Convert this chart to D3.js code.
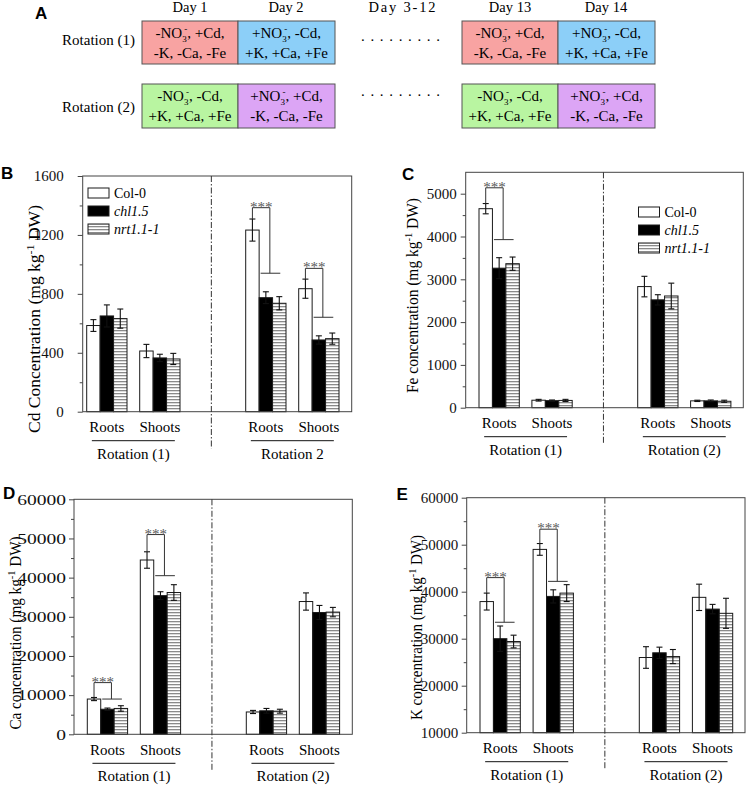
<!DOCTYPE html>
<html><head><meta charset="utf-8">
<script src="https://cdn.jsdelivr.net/npm/d3@7"></script>
<style>
body{margin:0;background:#fff;}
svg{display:block;font-family:"Liberation Serif","Times New Roman",serif;}
</style></head><body>
<svg id="chart" width="747" height="785"></svg>
<script>
// ---------------- Panel A data ----------------
const dayLabels = ["Day 1", "Day 2", "Day 3-12", "Day 13", "Day 14"];
const rotationRowLabels = ["Rotation (1)", "Rotation (2)"];
const rotation1Cells = [
  {no3: "-", rest: ", +Cd,", ions: "-K, -Ca, -Fe", color: "#F8A3A2"},
  {no3: "+", rest: ", -Cd,", ions: "+K, +Ca, +Fe", color: "#8CCFF8"},
  {no3: "-", rest: ", +Cd,", ions: "-K, -Ca, -Fe", color: "#F8A3A2"},
  {no3: "+", rest: ", -Cd,", ions: "+K, +Ca, +Fe", color: "#8CCFF8"}
];
const rotation2Cells = [
  {no3: "-", rest: ", -Cd,", ions: "+K, +Ca, +Fe", color: "#B9F5A1"},
  {no3: "+", rest: ", +Cd,", ions: "-K, -Ca, -Fe", color: "#DCA5F5"},
  {no3: "-", rest: ", -Cd,", ions: "+K, +Ca, +Fe", color: "#B9F5A1"},
  {no3: "+", rest: ", +Cd,", ions: "-K, -Ca, -Fe", color: "#DCA5F5"}
];

// ---------------- Bar chart data ----------------
const genotypes = ["Col-0", "chl1.5", "nrt1.1-1"];
const tissues = ["Roots", "Shoots"];
// group order: Rotation(1) Roots, Rotation(1) Shoots, Rotation(2) Roots, Rotation(2) Shoots
const groupSlots = [0, 1, 3, 4];

const cdMeans = [[585, 650, 632], [412, 365, 358], [1233, 774, 736], [835, 487, 496]];
const cdErrs  = [[40, 75, 65], [45, 25, 38], [75, 40, 45], [65, 28, 38]];
const cdSig   = [{group: 2, top: 1385, low: 940}, {group: 3, top: 973, low: 641}];
const cdTicks = [0, 400, 800, 1200, 1600];
const cdMinor = [200, 600, 1000, 1400];
const cdRotations = ["Rotation (1)", "Rotation 2"];

const feMeans = [[4650, 3260, 3365], [175, 165, 170], [2830, 2520, 2610], [160, 160, 150]];
const feErrs  = [[120, 245, 155], [20, 15, 25], [240, 120, 300], [15, 20, 25]];
const feSig   = [{group: 0, top: 5138, low: 3927}];
const feTicks = [0, 1000, 2000, 3000, 4000, 5000];
const feMinor = [500, 1500, 2500, 3500, 4500];
const feRotations = ["Rotation (1)", "Rotation (2)"];

const caMeans = [[9000, 6400, 6600], [44500, 35400, 36200], [5700, 6000, 5900], [33900, 31100, 31200]];
const caErrs  = [[400, 300, 700], [2100, 1000, 2000], [400, 600, 500], [2200, 1800, 1200]];
const caSig   = [{group: 0, top: 13200, low: 9000}, {group: 1, top: 51000, low: 40500}];
const caTicks = [0, 10000, 20000, 30000, 40000, 50000, 60000];
const caMinor = [5000, 15000, 25000, 35000, 45000, 55000];
const caRotations = ["Rotation (1)", "Rotation (2)"];

const kMeans = [[37900, 30000, 29400], [49000, 39000, 39700], [26000, 27000, 26200], [38800, 36300, 35400]];
const kErrs  = [[1800, 2700, 1350], [1250, 1400, 1800], [2300, 1200, 1500], [2800, 1000, 3200]];
const kSig   = [{group: 0, top: 43000, low: 33500}, {group: 1, top: 53300, low: 42200}];
const kTicks = [10000, 20000, 30000, 40000, 50000, 60000];
const kMinor = [15000, 25000, 35000, 45000, 55000];
const kRotations = ["Rotation (1)", "Rotation (2)"];

// ---------------- drawing ----------------
const svg = d3.select("#chart");
const defs = svg.append("defs");
const pat = defs.append("pattern").attr("id", "stripes").attr("patternUnits", "userSpaceOnUse")
  .attr("width", 6).attr("height", 3);
pat.append("rect").attr("width", 6).attr("height", 3).attr("fill", "#fff");
pat.append("rect").attr("width", 6).attr("height", 1.3).attr("fill", "#8a8a8a");
const fills = {"Col-0": "#fff", "chl1.5": "#000", "nrt1.1-1": "url(#stripes)"};

// ---- Panel A ----
const pA = svg.append("g");
pA.append("text").attr("x", 35).attr("y", 19).attr("font-family", "Liberation Sans, Arial, sans-serif")
  .attr("font-weight", "bold").attr("font-size", 17).text("A");
const cellX = [142, 238, 462, 558];
const cellW = [96, 97, 96, 97];
const rowTop = [21, 84];
const rowH = [43, 44];
const dayX = [190, 286, 402, 510, 606];
pA.selectAll("text.day").data(dayLabels).join("text").attr("class", "day")
  .attr("x", (d, i) => dayX[i]).attr("y", 12).attr("text-anchor", "middle").attr("font-size", 14.5)
  .each(function (d) { if (d === "Day 3-12") d3.select(this).attr("textLength", 67).attr("lengthAdjust", "spacing"); })
  .text(d => d);
pA.selectAll("text.rowlab").data(rotationRowLabels).join("text").attr("class", "rowlab")
  .attr("x", 135).attr("y", (d, i) => [45, 112][i]).attr("text-anchor", "end").attr("font-size", 15).text(d => d);
[rotation1Cells, rotation2Cells].forEach((cells, r) => {
  cells.forEach((c, i) => {
    pA.append("rect").attr("x", cellX[i]).attr("y", rowTop[r]).attr("width", cellW[i]).attr("height", rowH[r])
      .attr("fill", c.color).attr("stroke", "#555").attr("stroke-width", 1);
    const cx = cellX[i] + cellW[i] / 2;
    const t = pA.append("text").attr("x", cx).attr("y", rowTop[r] + 17).attr("text-anchor", "middle").attr("font-size", 15);
    t.append("tspan").text(c.no3 + "NO");
    t.append("tspan").attr("font-size", 9).attr("dy", 4).text("3");
    t.append("tspan").attr("font-size", 9).attr("dx", -2.5).attr("dy", -10).text("-");
    t.append("tspan").attr("dy", 6).text(c.rest);
    pA.append("text").attr("x", cx).attr("y", rowTop[r] + 37).attr("text-anchor", "middle").attr("font-size", 15).text(c.ions);
  });
  pA.append("text").attr("x", 361).attr("y", [41, 96][r]).attr("font-size", 15)
    .attr("textLength", 79).attr("lengthAdjust", "spacing").text(".........");
});

function drawPanel(cfg) {
  const g = svg.append("g");
  const y = d3.scaleLinear().domain(cfg.domain).range([cfg.bottom, cfg.top]);
  const xg = d3.scaleLinear().domain([0, 4]).range([cfg.x0, cfg.x0 + 4 * cfg.step]);
  const groupW = 40.3;
  const xb = d3.scaleBand().domain(genotypes).range([0, groupW]);
  const bw = xb.bandwidth();
  const flat = [];
  cfg.means.forEach((arr, gi) => arr.forEach((v, k) => flat.push({
    gi, slot: groupSlots[gi], gen: genotypes[k], v, e: cfg.errs[gi][k]
  })));
  const cxOf = d => xg(d.slot) + xb(d.gen) + bw / 2;

  // bars
  g.selectAll("rect.bar").data(flat).join("rect").attr("class", "bar")
    .attr("x", d => xg(d.slot) + xb(d.gen)).attr("width", bw)
    .attr("y", d => y(d.v)).attr("height", d => y(cfg.domain[0]) - y(d.v))
    .attr("fill", d => fills[d.gen]).attr("stroke", "#1a1a1a").attr("stroke-width", 1);
  // error bars
  const eb = g.selectAll("g.err").data(flat).join("g").attr("class", "err")
    .attr("stroke", "#111").attr("stroke-width", 1.1);
  eb.append("line").attr("x1", cxOf).attr("x2", cxOf).attr("y1", d => y(d.v - d.e)).attr("y2", d => y(d.v + d.e));
  eb.append("line").attr("x1", d => cxOf(d) - 3).attr("x2", d => cxOf(d) + 3).attr("y1", d => y(d.v + d.e)).attr("y2", d => y(d.v + d.e));
  eb.append("line").attr("x1", d => cxOf(d) - 3).attr("x2", d => cxOf(d) + 3).attr("y1", d => y(d.v - d.e)).attr("y2", d => y(d.v - d.e));

  // significance brackets
  cfg.sig.forEach(s => {
    const slot = groupSlots[s.group];
    const xL = xg(slot) + xb("Col-0") + bw / 2;
    const xR = xg(slot) + xb("chl1.5") + bw / 2 + 4;
    const errTop = cfg.means[s.group][0] + cfg.errs[s.group][0];
    g.append("path").attr("fill", "none").attr("stroke", "#333").attr("stroke-width", 1)
      .attr("d", `M${xL},${y(errTop)}V${y(s.top)}H${xR}V${y(s.low)}`);
    g.append("line").attr("stroke", "#333").attr("stroke-width", 1)
      .attr("x1", xg(slot) + xb("chl1.5") + 1.5).attr("x2", xg(slot) + xb("nrt1.1-1") + bw / 2 + 1)
      .attr("y1", y(s.low)).attr("y2", y(s.low));
    g.append("text").attr("x", (xL + xR) / 2).attr("y", y(s.top) + 4).attr("text-anchor", "middle")
      .attr("font-size", 15).attr("fill", "#5a5a5a").text("***");
  });

  // frame
  g.append("rect").attr("x", cfg.left).attr("y", cfg.top).attr("width", cfg.right - cfg.left)
    .attr("height", cfg.bottom - cfg.top).attr("fill", "none").attr("stroke", "#444").attr("stroke-width", 1);

  // divider
  const dx = xg(2) + groupW / 2 - 1.5;
  g.append("line").attr("x1", dx).attr("x2", dx).attr("y1", cfg.top).attr("y2", cfg.bottom + 37)
    .attr("stroke", "#333").attr("stroke-width", 1).attr("stroke-dasharray", "6,2,1.5,2");

  // axes
  const ax = g.append("g").attr("transform", `translate(${cfg.left},0)`)
    .call(d3.axisLeft(y).tickValues(cfg.ticks).tickSize(5).tickPadding(cfg.pad).tickFormat(d3.format("d")));
  ax.select(".domain").remove();
  ax.selectAll("line").attr("stroke", "#444");
  ax.selectAll("text").attr("font-family", "Liberation Serif, Times New Roman, serif").attr("font-size", 15).attr("fill", "#111");
  if (cfg.stretch) {
    ax.selectAll("text").attr("x", -(5 + cfg.pad) / cfg.stretch).attr("transform", `scale(${cfg.stretch},1)`);
  }
  const axm = g.append("g").attr("transform", `translate(${cfg.left},0)`)
    .call(d3.axisLeft(y).tickValues(cfg.minor).tickSize(3).tickFormat(""));
  axm.select(".domain").remove();
  axm.selectAll("line").attr("stroke", "#444");

  // x labels
  const tl = [];
  groupSlots.forEach((slot, gi) => tl.push({slot, name: tissues[gi % 2]}));
  g.selectAll("text.tissue").data(tl).join("text").attr("class", "tissue")
    .attr("x", d => xg(d.slot) + groupW / 2).attr("y", cfg.bottom + 20.5)
    .attr("text-anchor", "middle").attr("font-size", 15).text(d => d.name);
  [[0, 1], [3, 4]].forEach((pair, r) => {
    const a = xg(pair[0]) + groupW / 2, b = xg(pair[1]) + groupW / 2;
    g.append("line").attr("x1", a - 15).attr("x2", b + 15).attr("y1", cfg.bottom + 29).attr("y2", cfg.bottom + 29)
      .attr("stroke", "#111").attr("stroke-width", 1);
    g.append("text").attr("x", (a + b) / 2).attr("y", cfg.bottom + 47).attr("text-anchor", "middle")
      .attr("font-size", 15).text(cfg.rotations[r]);
  });

  // y label
  const yl = g.append("text").attr("transform", `translate(${cfg.ylx},${cfg.yly}) rotate(-90)`)
    .attr("text-anchor", "middle").attr("dy", "0.35em").attr("font-size", 16)
    .attr("textLength", cfg.ylLen).attr("lengthAdjust", "spacingAndGlyphs");
  yl.append("tspan").text(cfg.ylabel + " (mg kg");
  yl.append("tspan").attr("font-size", 11).attr("dy", -6).text("-1");
  yl.append("tspan").attr("dy", 6).text(" DW)");

  // panel letter
  g.append("text").attr("x", cfg.letterX).attr("y", cfg.letterY).attr("font-family", "Liberation Sans, Arial, sans-serif")
    .attr("font-weight", "bold").attr("font-size", 17).text(cfg.letter);

  // legend
  if (cfg.legend) {
    const lg = g.selectAll("g.leg").data(genotypes).join("g").attr("class", "leg")
      .attr("transform", (d, i) => `translate(${cfg.legend.x},${cfg.legend.y + i * 18})`);
    lg.append("rect").attr("x", 0).attr("y", -5).attr("width", 21).attr("height", 10)
      .attr("fill", d => fills[d]).attr("stroke", "#1a1a1a").attr("stroke-width", 1);
    lg.append("text").attr("x", 26).attr("y", 5).attr("font-size", 14)
      .attr("font-style", d => d === "Col-0" ? "normal" : "italic").text(d => d);
  }
}

drawPanel({letter: "B", letterX: 1, letterY: 179, left: 82.7, right: 351.7, top: 176, bottom: 411.7,
  domain: [0, 1600], x0: 86.7, step: 53, means: cdMeans, errs: cdErrs, sig: cdSig,
  ticks: cdTicks, minor: cdMinor, pad: 14, rotations: cdRotations,
  ylabel: "Cd Concentration", ylx: 34, yly: 319, ylLen: 228, legend: {x: 88, y: 193}});
drawPanel({letter: "C", letterX: 402, letterY: 180, left: 465.7, right: 743.3, top: 172.3, bottom: 407.7,
  domain: [0, 5500], x0: 479, step: 52.9, means: feMeans, errs: feErrs, sig: feSig,
  ticks: feTicks, minor: feMinor, pad: 4, rotations: feRotations,
  ylabel: "Fe concentration", ylx: 412.5, yly: 295.5, ylLen: 195, legend: {x: 638.5, y: 212}});
drawPanel({letter: "D", letterX: 3, letterY: 498.5, left: 74, right: 352.3, top: 499.3, bottom: 734.3,
  domain: [0, 60000], x0: 87.3, step: 53, means: caMeans, errs: caErrs, sig: caSig,
  ticks: caTicks, minor: caMinor, pad: 3, stretch: 1.3, rotations: caRotations,
  ylabel: "Ca concentration", ylx: 15, yly: 633, ylLen: 193});
drawPanel({letter: "E", letterX: 396.5, letterY: 500, left: 466.7, right: 745, top: 497.7, bottom: 732.7,
  domain: [10000, 60000], x0: 480, step: 53.1, means: kMeans, errs: kErrs, sig: kSig,
  ticks: kTicks, minor: kMinor, pad: 3.5, rotations: kRotations,
  ylabel: "K concentration", ylx: 416, yly: 627.5, ylLen: 185});
</script>
</body></html>
